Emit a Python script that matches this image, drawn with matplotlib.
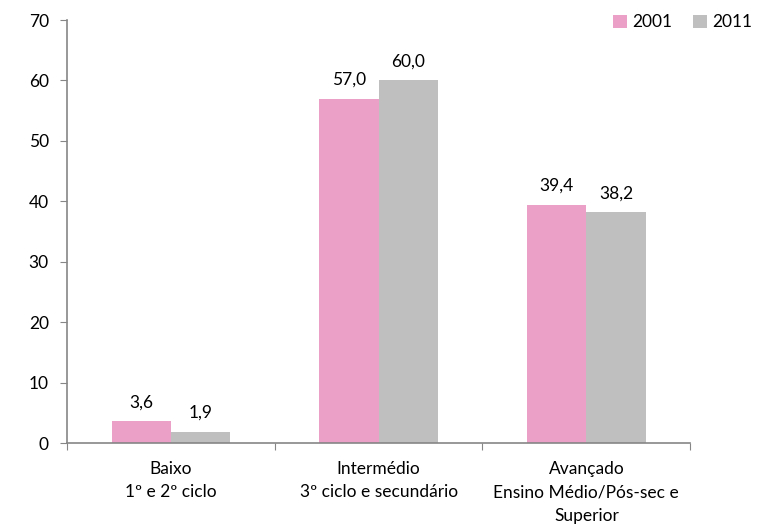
import numpy as np
import matplotlib.pyplot as plt

plt.rcParams['font.family'] = ['Lato', 'DejaVu Sans']

categories = ["Baixo\n1º e 2º ciclo",
              "Intermédio\n3º ciclo e secundário",
              "Avançado\nEnsino Médio/Pós-sec e\nSuperior"]
v2001 = [3.6, 57.0, 39.4]
v2011 = [1.9, 60.0, 38.2]
series_labels = ["2001", "2011"]

pink = '#EBA1C7'
gray = '#BFBFBF'
axis_col = '#868686'
fs = 12.5

fig = plt.figure(figsize=(7.61, 5.27), dpi=100)
ax = fig.add_axes([0.088, 0.159, 0.819, 0.803])

x = np.arange(len(categories))
w = 0.285
b1 = ax.bar(x - w / 2, v2001, w, color=pink, label=series_labels[0])
b2 = ax.bar(x + w / 2, v2011, w, color=gray, label=series_labels[1])

for bars in (b1, b2):
    for r in bars:
        h = r.get_height()
        ax.annotate(f"{h:.1f}".replace('.', ','),
                    (r.get_x() + r.get_width() / 2, h),
                    xytext=(0, 8), textcoords='offset points',
                    ha='center', va='bottom', fontsize=fs)

ax.set_xlim(-0.5, 2.5)
ax.set_ylim(0, 70)
ax.set_yticks(range(0, 71, 10))
ax.set_xticks([-0.5, 0.5, 1.5, 2.5])
ax.set_xticklabels([])
ax.set_xticks(x, minor=True)
ax.set_xticklabels(categories, minor=True, fontsize=fs, linespacing=1.55)
ax.tick_params(axis='x', which='minor', length=0, pad=13)
ax.tick_params(axis='x', which='major', length=5, color=axis_col, direction='out')
ax.tick_params(axis='y', length=5, color=axis_col, labelsize=fs, pad=8)

for s in ['top', 'right']:
    ax.spines[s].set_visible(False)
for s in ['left', 'bottom']:
    ax.spines[s].set_color(axis_col)
    ax.spines[s].set_linewidth(1.2)

ax.legend(loc='upper right', bbox_to_anchor=(1.125, 1.05), ncol=2, frameon=False,
          fontsize=fs, handlelength=0.8, handleheight=0.8, handletextpad=0.3,
          columnspacing=1.2)

plt.savefig("out.png", dpi=100)
